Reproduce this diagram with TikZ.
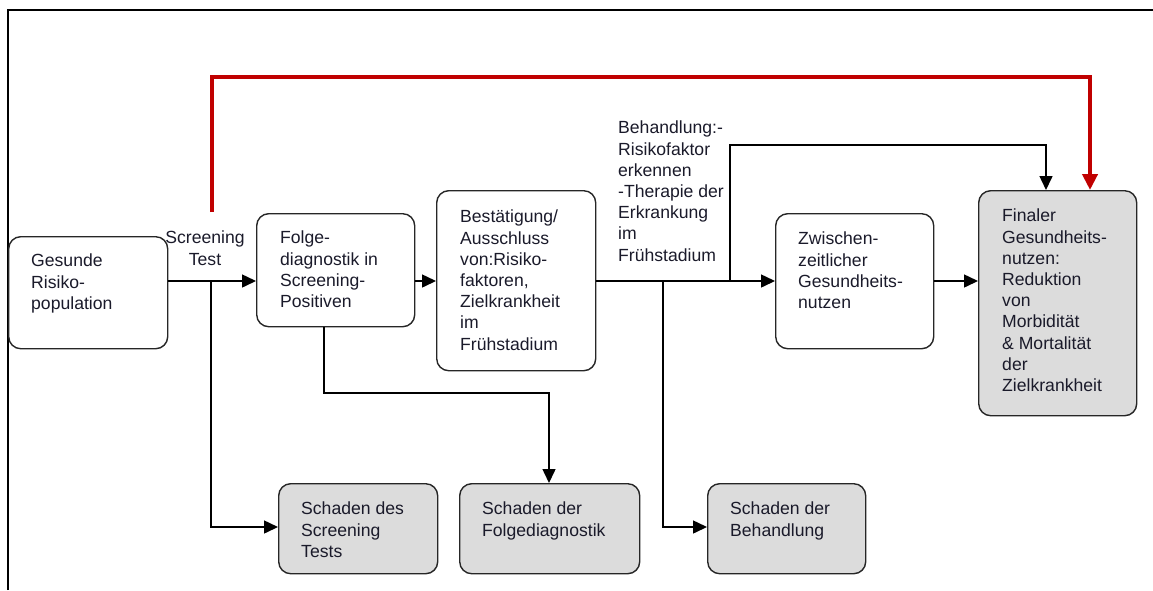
\documentclass[tikz,border=0pt]{standalone}
\usepackage{fontspec}
\setmainfont{Liberation Sans}
\usetikzlibrary{arrows.meta}
\definecolor{boxgray}{HTML}{DCDCDC}
\definecolor{redline}{HTML}{C00000}
\definecolor{txtcol}{HTML}{1A1A2A}
\tikzset{
  box/.style={draw=black!85, line width=1.4pt, rounded corners=12pt, anchor=north west, inner sep=0pt},
  graybox/.style={box, fill=boxgray},
  txt/.style={anchor=north west, align=left, inner sep=0pt, text=txtcol, font={\fontsize{17.6}{21.2}\selectfont}},
  conn/.style={line width=1.5pt, -{Triangle[length=14pt,width=13pt]}},
  redarr/.style={line width=4pt, draw=redline, -{Triangle[length=16pt,width=15pt]}, color=redline},
}
\begin{document}
\begin{tikzpicture}[x=1pt,y=-1pt]
\useasboundingbox (0,0) rectangle (1153,590);
% frame
\draw[line width=2pt] (8,590) -- (8,10) -- (1153,10);

% boxes
\node[box, minimum width=159pt, minimum height=112pt] (gesund) at (8,236) {};
\node[box, minimum width=158pt, minimum height=113pt] (folge) at (256,213) {};
\node[box, minimum width=159pt, minimum height=180pt] (best) at (436,190) {};
\node[box, minimum width=158pt, minimum height=135pt] (zwisch) at (775,213) {};
\node[graybox, minimum width=158pt, minimum height=225pt] (final) at (978,190) {};
\node[graybox, minimum width=159pt, minimum height=90pt] (sch1) at (278,483) {};
\node[graybox, minimum width=180pt, minimum height=90pt] (sch2) at (459,483) {};
\node[graybox, minimum width=158pt, minimum height=90pt] (sch3) at (707,483) {};

% texts
\node[txt] (tgesund) at (31,254) {Gesunde\\Risiko-\\population};
\node[txt] (tfolge) at (280,231) {Folge-\\diagnostik in\\Screening-\\Positiven};
\node[txt] (tbest) at (460,210) {Bestätigung/\\Ausschluss\\von:Risiko-\\faktoren,\\Zielkrankheit\\im\\Frühstadium};
\node[txt] (tzwisch) at (798,232) {Zwischen-\\zeitlicher\\Gesundheits-\\nutzen};
\node[txt] (tfinal) at (1002,209) {Finaler\\Gesundheits-\\nutzen:\\Reduktion\\von\\Morbidität\\\& Mortalität\\der\\Zielkrankheit};
\node[txt] (tsch1) at (301,502) {Schaden des\\Screening\\Tests};
\node[txt] (tsch2) at (482,502) {Schaden der\\Folgediagnostik};
\node[txt] (tsch3) at (730,502) {Schaden der\\Behandlung};
\node[txt, anchor=north, align=center] (tscreen) at (205,231) {Screening\\Test};
\node[txt] (tbeh) at (618,121) {Behandlung:-\\Risikofaktor\\erkennen\\-Therapie der\\Erkrankung\\im\\Frühstadium};

% helper coordinates
\coordinate (mainY) at (0,281);
\coordinate (j1) at (211,281);
\coordinate (j1b) at (211,527);
\coordinate (f1) at (324,393);
\coordinate (f2) at (549,393);
\coordinate (j2) at (663,281);
\coordinate (j2b) at (663,527);
\coordinate (j3) at (730,281);
\coordinate (j3t) at (730,145);
\coordinate (bx) at (1046,145);
\coordinate (rs) at (212,212);
\coordinate (rt) at (212,77);
\coordinate (rx) at (1090,77);

% main flow
\draw[conn] (gesund.east |- mainY) -- (folge.west |- mainY);
\draw[conn] (folge.east |- mainY) -- (best.west |- mainY);
\draw[conn] (best.east |- mainY) -- (zwisch.west |- mainY);
\draw[conn] (zwisch.east |- mainY) -- (final.west |- mainY);

% harms
\draw[conn] (j1) -- (j1b) -- (sch1.west |- j1b);
\draw[conn] (folge.south -| f1) -- (f1) -- (f2) -- (sch2.north -| f2);
\draw[conn] (j2) -- (j2b) -- (sch3.west |- j2b);

% treatment to final
\draw[conn] (j3) -- (j3t) -- (bx) -- (final.north -| bx);

% red arrow
\draw[redarr] (rs) -- (rt) -- (rx) -- (final.north -| rx);
\end{tikzpicture}
\end{document}
